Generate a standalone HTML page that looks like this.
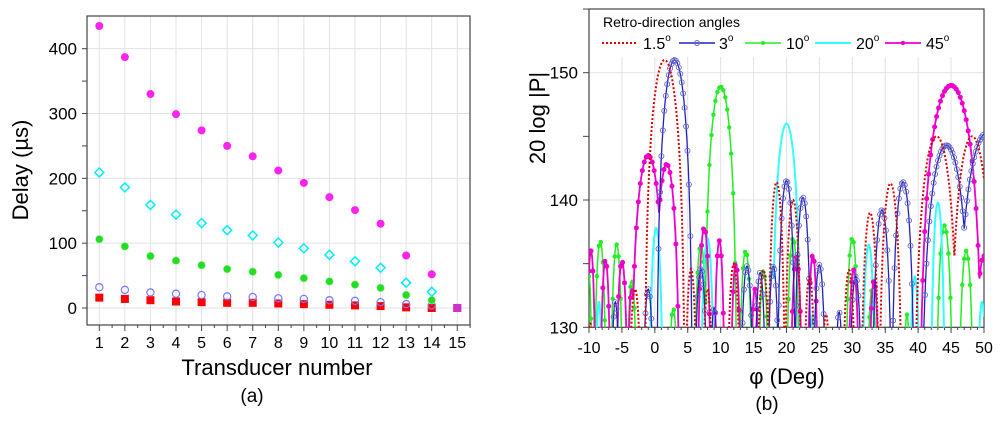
<!DOCTYPE html>
<html><head><meta charset="utf-8"><style>
html,body{margin:0;padding:0;background:#fff;width:1000px;height:421px;overflow:hidden;position:relative}
svg{display:block;position:absolute;left:0;top:0;font-family:"Liberation Sans",Arial,sans-serif}
script{display:none}
</style></head><body>
<svg id="s" width="1000" height="421" viewBox="0 0 1000 421" xmlns="http://www.w3.org/2000/svg" overflow="hidden">
<defs><clipPath id="cp"><rect x="589" y="9" width="395" height="318.5"/></clipPath></defs>
<g id="L"></g><g id="R"></g>
<text x="252" y="402" font-size="19" text-anchor="middle">(a)</text>
<text x="767" y="410" font-size="19" text-anchor="middle">(b)</text>
<text x="277" y="375" font-size="22" text-anchor="middle">Transducer number</text>
<text x="787" y="384" font-size="22" text-anchor="middle">φ (Deg)</text>
<text transform="translate(28,170) rotate(-90)" font-size="22" text-anchor="middle">Delay (µs)</text>
<text transform="translate(545,118) rotate(-90)" font-size="22" text-anchor="middle">20 log |P|</text>
</svg>
<script>
const NS="http://www.w3.org/2000/svg";
function el(p,t,a,txt){const e=document.createElementNS(NS,t);for(const k in a)e.setAttribute(k,a[k]);if(txt!==undefined)e.textContent=txt;p.appendChild(e);return e;}
const L=document.getElementById('L');
const lx=i=>99.3+(i-1)*25.57, ly=v=>308-v*0.6483;
for(let i=1;i<=15;i++){el(L,'line',{x1:lx(i),x2:lx(i),y1:16,y2:325,stroke:'#e2e2e2','stroke-width':1});}
for(let v=0;v<=400;v+=100){el(L,'line',{x1:87,x2:470,y1:ly(v),y2:ly(v),stroke:'#e2e2e2'});}
el(L,'rect',{x:87,y:16,width:383,height:309,fill:'none',stroke:'#444','stroke-width':1.2});
for(let v=0;v<=400;v+=50){el(L,'line',{x1:82,x2:87,y1:ly(v),y2:ly(v),stroke:'#444'});}
for(let v=0;v<=400;v+=100){el(L,'text',{x:77,y:ly(v)+6,'font-size':17,'text-anchor':'end'},v);}
for(let i=1;i<=15;i++){el(L,'line',{x1:lx(i),x2:lx(i),y1:325,y2:331,stroke:'#444'});el(L,'line',{x1:lx(i)+12.8,x2:lx(i)+12.8,y1:325,y2:328,stroke:'#444'});el(L,'text',{x:lx(i),y:348,'font-size':16,'text-anchor':'middle'},i);}
const mag=[435,387,330,299,274,250,234,212,193,171,151,130,81,52,0],
cy=[209,186,159,144,131,120,112,101,92,82,72,62,39,25,0],
gr=[106,95,80,73,66,60,56,51,46,41,36,31,20,12,0],
bl=[32,28,24,22,20,18,17,15,14,12,11,9,6,4,0],
rd=[16,14,12,10,9,8,8,7,6,5,4,3,1,0,0];
for(let i=0;i<15;i++){const x=lx(i+1);
 el(L,'rect',{x:x-4,y:ly(rd[i])-4,width:8,height:8,fill:'#f00'});
 el(L,'circle',{cx:x,cy:ly(bl[i]),r:3.6,fill:'none',stroke:'#77f','stroke-width':1.2});
 el(L,'circle',{cx:x,cy:ly(gr[i]),r:3.8,fill:'#2d2','stroke':'#9e9','stroke-width':0.6});
 if(i<14){el(L,'path',{d:`M${x} ${ly(cy[i])-4.5}L${x+4.5} ${ly(cy[i])}L${x} ${ly(cy[i])+4.5}L${x-4.5} ${ly(cy[i])}Z`,fill:'none',stroke:'#0ef','stroke-width':1.5});
 el(L,'circle',{cx:x,cy:ly(mag[i]),r:4,fill:'#f2e'});}
}
el(L,'rect',{x:lx(15)-4,y:ly(0)-4,width:8,height:8,fill:'#c3c'});
const R=document.getElementById('R');
const rx=d=>589+(d+10)*6.583, ry=v=>327.3-(v-130)*12.73;
for(let d=-10;d<=50;d+=5){el(R,'line',{x1:rx(d),x2:rx(d),y1:57,y2:327,stroke:'#e2e2e2'});}
for(const v of [140,150]){el(R,'line',{x1:589,x2:984,y1:ry(v),y2:ry(v),stroke:'#e2e2e2'});}
el(R,'rect',{x:589,y:9,width:395,height:318.3,fill:'none',stroke:'#444','stroke-width':1.2});
for(let v=130;v<=155;v+=5){el(R,'line',{x1:583,x2:589,y1:ry(v),y2:ry(v),stroke:'#444'});}
for(const v of [130,140,150]){el(R,'text',{x:578,y:ry(v)+6,'font-size':17,'text-anchor':'end'},v);}
for(let d=-10;d<=50;d+=5){el(R,'line',{x1:rx(d),x2:rx(d),y1:327,y2:333,stroke:'#444'});el(R,'text',{x:rx(d),y:353,'font-size':16,'text-anchor':'middle'},d);}
for(let d=-10;d<50;d+=1){el(R,'line',{x1:rx(d),x2:rx(d),y1:327,y2:330,stroke:'#444'});}
function curve(lobes,x){let m=110;for(const [c,p,w0] of lobes){const w=w0*1.15;const t=(x-c)/w;if(Math.abs(t)<1){const v=p+20*Math.log10(Math.max(Math.cos(Math.PI*t/2),1e-4));if(v>m)m=v;}}return m;}
const S=[
 {c:'#2e2',w:1.5,mk:'dot',r:2.2,st:0.3,l:[[-10,134,0.5],[-8.3,136.8,0.9],[-5.8,136.5,0.9],[-3.5,133.7,0.8],[2.8,131.5,0.8],[7,136.5,1],[10,148.9,2.2],[13.8,136,1],[16.5,134.5,0.8],[21,137,1],[30,137,1],[33,133,0.8],[38.3,131,0.6],[44,138,1.2],[47.3,136,1.1]]},
 {c:'#3ff',w:2,mk:null,l:[[-8.5,132,0.6],[0.2,137.8,1],[8,137,1],[17.8,134.8,0.7],[20,146,2],[24,131,0.6],[32.5,136.5,1],[39.5,134,0.8],[43,139.8,1],[49.7,132,0.8]]},
 {c:'#e0c',w:1.8,mk:'dot',r:2.5,st:0.3,l:[[-9.7,136,0.7],[-7.5,135.3,0.8],[-5,135.2,0.9],[-3.5,133,0.7],[-1,143.5,2.4],[1.8,142.8,1.8],[7.5,137.8,1],[9.8,136.8,0.8],[12.3,135,0.8],[15.2,133,0.7],[21.5,135.5,0.9],[24,135.7,0.8],[30.2,134.5,0.9],[33.3,133.7,0.8],[45,149,4.2],[50,135.6,1.5]]},
 {c:'#22b',w:1.3,mk:'open',r:2.5,st:0.22,l:[[-6,132,0.7],[-1,133,0.9],[3,151,2.4],[7,134.6,1],[9,131.5,0.7],[14,134.8,1],[16,134.3,0.9],[18,134.8,0.9],[20,141.5,1.3],[22.5,140.2,1.2],[25,134.9,1],[28,131.2,0.7],[30.5,134,1],[34.5,139.2,1.4],[37.7,141.4,1.6],[44.3,144.3,3.4],[50.5,145.3,4.2]]},
 {c:'#d00',w:2,mk:null,dash:'2,2',l:[[-9.8,130.3,1],[-3,133,1],[1.5,151,2.7],[5.5,134.6,0.9],[8,133,0.8],[12,135,1],[16.5,134.5,1],[18.5,141.4,1.2],[21,140,1.2],[23.5,134,0.9],[26,131,0.8],[29.5,134.5,1],[32.7,139,1.3],[35.8,141.3,1.6],[42.8,145,3.0],[48.2,145,3.0]]}
];
const G=el(R,'g',{'clip-path':'url(#cp)'});
for(const s of S){let pts=[];for(let x=-10;x<=50.001;x+=0.04){pts.push(rx(x).toFixed(1)+','+ry(curve(s.l,x)).toFixed(1));}
 const a={points:pts.join(' '),fill:'none',stroke:s.c,'stroke-width':s.w};if(s.dash)a['stroke-dasharray']=s.dash;el(G,'polyline',a);
 if(s.mk){for(let x=-10;x<=50;x+=s.st){const v=curve(s.l,x);if(v<130.3)continue;
  if(s.mk==='dot')el(G,'circle',{cx:rx(x),cy:ry(v),r:s.r,fill:s.c});else el(G,'circle',{cx:rx(x),cy:ry(v),r:s.r,fill:'none',stroke:'#66c','stroke-width':0.9});}}
}
el(R,'text',{x:603,y:27,'font-size':14},'Retro-direction angles');
const ly2=43;
function lab(x,t){const e=el(R,'text',{x:x,y:ly2+6,'font-size':16});e.appendChild(document.createTextNode(t));el(e,'tspan',{'font-size':10,dy:-8},'o');}
el(R,'line',{x1:602,x2:638,y1:ly2,y2:ly2,stroke:'#d00','stroke-width':2,'stroke-dasharray':'2,2'});lab(643,'1.5');
el(R,'line',{x1:679,x2:715,y1:ly2,y2:ly2,stroke:'#22b','stroke-width':1.5});el(R,'circle',{cx:697,cy:ly2,r:2.5,fill:'none',stroke:'#66c'});lab(719,'3');
el(R,'line',{x1:745,x2:781,y1:ly2,y2:ly2,stroke:'#2e2','stroke-width':1.5});el(R,'circle',{cx:763,cy:ly2,r:2,fill:'#2e2'});lab(786,'10');
el(R,'line',{x1:815,x2:851,y1:ly2,y2:ly2,stroke:'#3ff','stroke-width':2});lab(856,'20');
el(R,'line',{x1:885,x2:921,y1:ly2,y2:ly2,stroke:'#e0c','stroke-width':1.8});el(R,'circle',{cx:903,cy:ly2,r:2.2,fill:'#e0c'});lab(926,'45');
</script>
</body></html>
